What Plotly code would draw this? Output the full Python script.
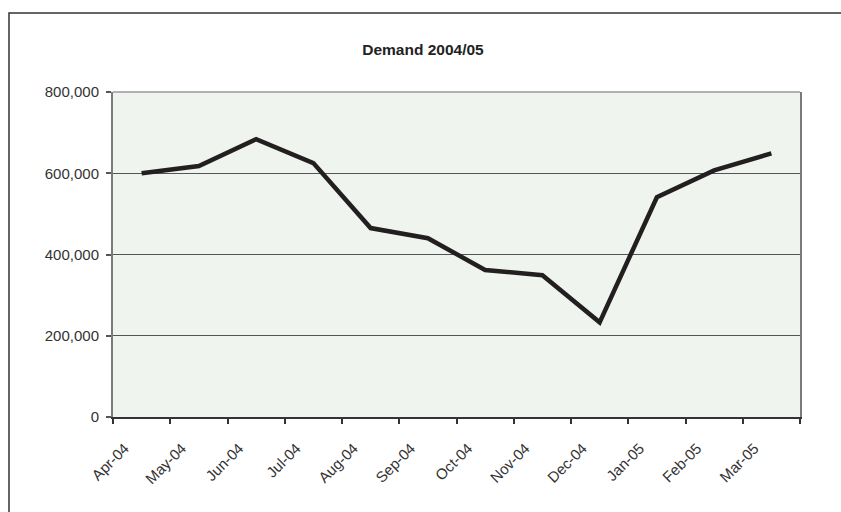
import plotly.graph_objects as go

months = ["Apr-04", "May-04", "Jun-04", "Jul-04", "Aug-04", "Sep-04",
          "Oct-04", "Nov-04", "Dec-04", "Jan-05", "Feb-05", "Mar-05"]
demand = [600000, 618000, 684000, 625000, 465000, 440000,
          362000, 349000, 233000, 541000, 607000, 649000]
y_ticks = [0, 200000, 400000, 600000, 800000]
y_tick_labels = ["0", "200,000", "400,000", "600,000", "800,000"]
title_text = "Demand 2004/05"

W, H = 841, 512
L, R, T, B = 113, 41, 92, 95
pw, ph = W - L - R, H - T - B

def px_x(x):
    return (x - L) / pw

def px_y(y):
    return (H - B - y) / ph

font_family = "Liberation Sans, Arial, sans-serif"

fig = go.Figure()
fig.add_trace(go.Scatter(
    x=months, y=demand, mode="lines",
    line=dict(color="#231F20", width=4.5),
    showlegend=False,
))

fig.update_layout(
    width=W, height=H,
    margin=dict(l=L, r=R, t=T, b=B),
    paper_bgcolor="white",
    plot_bgcolor="#EFF4EF",
    font=dict(family=font_family, size=15, color="#333333"),
    title=dict(text="<b>" + title_text + "</b>", x=px_x(423), xref="paper",
               xanchor="center", y=1 - 50 / H, yanchor="middle",
               font=dict(size=15.5, color="#222222")),
    xaxis=dict(
        type="category", tickson="boundaries", ticks="outside", ticklen=5,
        tickcolor="#333333", tickwidth=1.5,
        showline=True, linecolor="#333333", linewidth=1.5,
        showgrid=False, tickangle=-45, zeroline=False,
        range=[-0.5, len(months) - 0.5],
        tickfont=dict(size=15, color="#333333"),
        ticklabelstandoff=15, ticklabelshift=-17,
    ),
    yaxis=dict(
        range=[0, 800000], tickvals=y_ticks, ticktext=y_tick_labels,
        ticks="outside", ticklen=5, tickcolor="#555555", tickwidth=1.5,
        showline=True, linecolor="#7a7a7a", linewidth=2, mirror=True,
        showgrid=True, gridcolor="#555555", gridwidth=1, zeroline=False,
        tickfont=dict(size=15, color="#333333"),
        ticklabelstandoff=4,
    ),
    shapes=[
        dict(type="line", xref="paper", yref="paper", x0=0, x1=1, y0=1, y1=1,
             line=dict(color="#999999", width=1.5)),
        dict(type="rect", xref="paper", yref="paper",
             x0=px_x(9), x1=px_x(W + 20), y0=px_y(13), y1=px_y(H + 20),
             line=dict(color="#333333", width=1.5), fillcolor="rgba(0,0,0,0)",
             layer="below"),
    ],
)

fig.write_html("out.html")
